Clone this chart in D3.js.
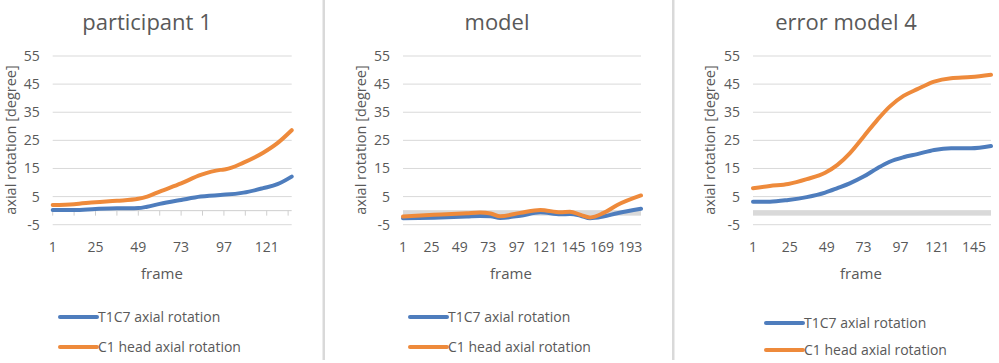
<!DOCTYPE html>
<html>
<head>
<meta charset="utf-8">
<script src="https://cdn.jsdelivr.net/npm/d3@7"></script>
<style>
  body { margin: 0; background: #fff; }
  svg { display: block; font-family: "Open Sans", sans-serif; }
</style>
</head>
<body>
<svg id="chart" width="999" height="363"></svg>
<script>
const yTicks = [-5, 5, 15, 25, 35, 45, 55];
const seriesNames = ["T1C7 axial rotation", "C1 head axial rotation"];
const titles = ["participant 1", "model", "error model 4"];

const p1Frames = [1, 13, 25, 37, 49, 54, 61, 73, 84, 95, 98, 108, 119, 127, 135];
const p1T1C7 = [0.25, 0.25, 0.6, 0.85, 0.9, 1.4, 2.4, 3.8, 5.0, 5.6, 5.7, 6.4, 8.0, 9.4, 12.1];
const p1C1 = [2.0, 2.3, 3.0, 3.5, 4.2, 5.0, 6.8, 9.7, 12.7, 14.5, 14.7, 17.1, 20.6, 24.0, 28.6];
const p1XLabels = [1, 25, 49, 73, 97, 121];
const p1Last = 135;

const p2Frames = [1, 27, 55, 66, 75, 83, 100, 117, 134, 142, 151, 159, 170, 182, 202];
const p2T1C7 = [-2.7, -2.5, -2.1, -1.9, -2.0, -2.6, -1.8, -0.6, -1.3, -1.2, -1.8, -2.7, -2.1, -0.9, 0.7];
const p2C1 = [-2.1, -1.5, -0.9, -0.7, -1.0, -2.0, -0.8, 0.25, -0.6, -0.35, -1.5, -2.4, -0.9, 2.0, 5.4];
const p2XLabels = [1, 25, 49, 73, 97, 121, 145, 169, 193];
const p2Last = 202;

const p3Frames = [1, 12, 24, 36, 48, 56, 64, 73, 82, 90, 99, 108, 119, 130, 143, 156];
const p3T1C7 = [3.2, 3.2, 3.8, 4.8, 6.4, 8.0, 9.7, 12.1, 15.1, 17.4, 19.0, 20.1, 21.6, 22.2, 22.2, 23.0];
const p3C1 = [8.0, 8.8, 9.5, 11.2, 13.5, 16.3, 20.4, 26.3, 32.3, 37.0, 40.8, 43.2, 45.9, 47.1, 47.5, 48.3];
const p3XLabels = [1, 25, 49, 73, 97, 121, 145];
const p3Last = 156;

const colors = ["#4e7dbd", "#ee8a3b"];
const textColor = "#595959";
const gridColor = "#d9d9d9";

const panels = [
  { title: titles[0], frames: p1Frames, s: [p1T1C7, p1C1], labels: p1XLabels, last: p1Last,
    left: 52.7, right: 291.7, yTitleX: 10, titleX: 147, frameX: 162,
    legX: 60, legY: [317, 347], thickAxis: false },
  { title: titles[1], frames: p2Frames, s: [p2T1C7, p2C1], labels: p2XLabels, last: p2Last,
    left: 403, right: 641, yTitleX: 360, titleX: 497, frameX: 511,
    legX: 410, legY: [317, 347], thickAxis: true },
  { title: titles[2], frames: p3Frames, s: [p3T1C7, p3C1], labels: p3XLabels, last: p3Last,
    left: 753, right: 991, yTitleX: 709, titleX: 846, frameX: 861,
    legX: 766, legY: [323, 350], thickAxis: true }
];

const svg = d3.select("#chart");

// separators between panels
[322.5, 672].forEach(x => {
  svg.append("rect").attr("x", x).attr("y", 0).attr("width", 2.5).attr("height", 360)
    .attr("fill", "#d9d9d9");
});

const y = d3.scaleLinear().domain([-5, 55]).range([224.7, 56]);

panels.forEach(p => {
  const g = svg.append("g");
  const x = d3.scaleLinear().domain([1, p.last]).range([p.left, p.right]);

  // gridlines
  g.selectAll(".grid")
    .data(yTicks)
    .enter()
    .append("line")
    .attr("x1", p.left).attr("x2", p.right)
    .attr("y1", d => y(d)).attr("y2", d => y(d))
    .attr("stroke", gridColor)
    .attr("stroke-width", 1);

  // y tick labels
  g.selectAll(".ylab")
    .data(yTicks)
    .enter()
    .append("text")
    .attr("x", p.left - 13)
    .attr("y", d => y(d) + 5)
    .attr("text-anchor", "end")
    .attr("fill", textColor)
    .style("font-size", "14px")
    .text(d => d);

  // zero axis
  if (p.thickAxis) {
    g.append("rect")
      .attr("x", p.left).attr("width", p.right - p.left)
      .attr("y", y(0) - 0.5).attr("height", 5.5)
      .attr("fill", "#d9d9d9");
  } else {
    g.append("line")
      .attr("x1", p.left).attr("x2", p.right)
      .attr("y1", y(0)).attr("y2", y(0))
      .attr("stroke", "#cfcfcf");
    const tickFrames = d3.range(1, p.last + 1, 12);
    g.selectAll(".tick")
      .data(tickFrames)
      .enter()
      .append("line")
      .attr("x1", d => x(d)).attr("x2", d => x(d))
      .attr("y1", y(0)).attr("y2", y(0) + 5)
      .attr("stroke", "#cfcfcf");
  }

  // x labels
  g.selectAll(".xlab")
    .data(p.labels)
    .enter()
    .append("text")
    .attr("x", d => x(d))
    .attr("y", 252)
    .attr("text-anchor", "middle")
    .attr("fill", textColor)
    .style("font-size", "14px")
    .text(d => d);

  // lines
  const line = d3.line()
    .x((d, i) => x(p.frames[i]))
    .y(d => y(d))
    .curve(d3.curveMonotoneX);

  p.s.forEach((vals, i) => {
    g.append("path")
      .datum(vals)
      .attr("d", line)
      .attr("fill", "none")
      .attr("stroke", colors[i])
      .attr("stroke-width", 4)
      .attr("stroke-linejoin", "round")
      .attr("stroke-linecap", "round");
  });

  // titles
  g.append("text")
    .attr("x", p.titleX).attr("y", 30)
    .attr("text-anchor", "middle")
    .attr("fill", textColor)
    .style("font-size", "22px")
    .text(p.title);

  g.append("text")
    .attr("transform", `translate(${p.yTitleX + 6},140) rotate(-90)`)
    .attr("text-anchor", "middle")
    .attr("fill", textColor)
    .style("font-size", "14.5px")
    .text("axial rotation [degree]");

  g.append("text")
    .attr("x", p.frameX).attr("y", 279)
    .attr("text-anchor", "middle")
    .attr("fill", textColor)
    .style("font-size", "15px")
    .text("frame");

  // legend
  seriesNames.forEach((name, i) => {
    g.append("line")
      .attr("x1", p.legX).attr("x2", p.legX + 37)
      .attr("y1", p.legY[i]).attr("y2", p.legY[i])
      .attr("stroke", colors[i])
      .attr("stroke-width", 4)
      .attr("stroke-linecap", "round");
    g.append("text")
      .attr("x", p.legX + 38).attr("y", p.legY[i] + 5)
      .attr("fill", textColor)
      .style("font-size", "14px")
      .text(name);
  });
});
</script>
</body>
</html>
